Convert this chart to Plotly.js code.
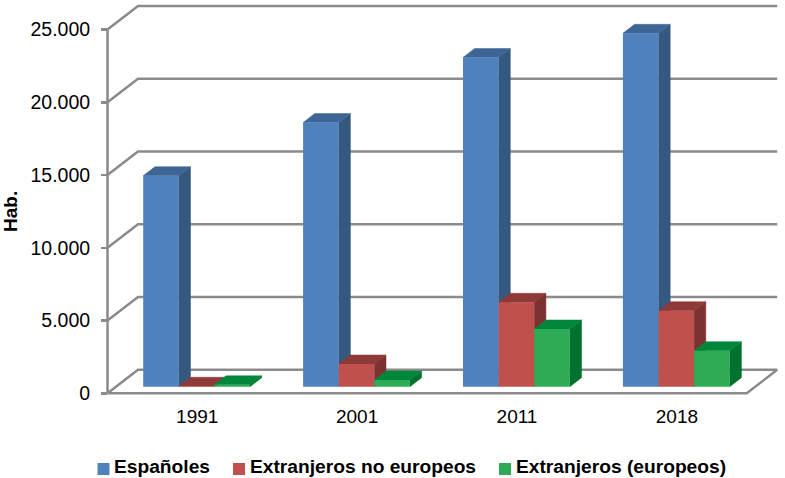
<!DOCTYPE html>
<html><head><meta charset="utf-8">
<script src="https://cdn.plot.ly/plotly-3.0.1.min.js"></script>
<style>html,body{margin:0;padding:0;background:#fff}#c{width:785px;height:478px}</style>
</head><body><div id="c"></div>
<script>
const categories = ['1991','2001','2011','2018'];
const seriesNames = ['Españoles','Extranjeros no europeos','Extranjeros (europeos)'];
const espanoles = [14500,18150,22620,24285];
const noEuropeos = [30,1560,5800,5222];
const europeos = [130,460,3965,2474];
const yTicks = [0,5000,10000,15000,20000,25000];
const yTickText = ['0','5.000','10.000','15.000','20.000','25.000'];
const frontColors = ['#4F81BD','#C0504D','#2EAB54'];
const sideColors = ['#35587F','#7C3230','#00722F'];
const topColors = ['#3D6596','#8E3A38','#00873C'];

const allValues = [espanoles,noEuropeos,europeos];
const W = 785, H = 478;
const L = 107.5, R = 746.7, T = 29.5, B = 393.3, CX = 197.2;
const pxX = 159.9, pxY = (B-T)/25000;
const xMin = (L-CX)/pxX, xMax = (R-CX)/pxX;
const wallDX = 30.5/pxX, wallDY = 23.5/pxY;
const barW = 35.6/pxX, barOff = -54/pxX;
const barDX = 11.7/pxX, barDY = 9/pxY;
const lift = 6.6/pxY;
const gray = '#8A8A8A';
const fullX = [-CX/pxX,(W-CX)/pxX], fullY = [(B-H)/pxY,B/pxY];

const traces = [{type:'scatter',mode:'lines',x:[],y:[],xaxis:'x',yaxis:'y',hoverinfo:'skip',showlegend:false}];
// walls and floor
const gx=[], gy=[];
yTicks.forEach(v=>{ gx.push(xMin,xMin+wallDX,xMax+wallDX,null); gy.push(v,v+wallDY,v+wallDY,null); });
gx.push(xMin,xMax,xMax+wallDX,null,xMin,xMin); gy.push(0,0,wallDY,null,0,25000);
traces.push({type:'scatter',mode:'lines',xaxis:'x2',yaxis:'y2',x:gx,y:gy,hoverinfo:'skip',showlegend:false,
  line:{color:gray,width:2.5}});
// side and top faces, left to right
allValues.forEach((vals,k)=>{
  const sx=[],sy=[],tx=[],ty=[];
  vals.forEach((v,i)=>{
    const x0=i+barOff+k*barW, x1=x0+barW, top=lift+v;
    sx.push(x1,x1+barDX,x1+barDX,x1,x1,null);
    sy.push(lift,lift+barDY,top+barDY,top,lift,null);
    tx.push(x0,x0+barDX,x1+barDX,x1,x0,null);
    ty.push(top,top+barDY,top+barDY,top,top,null);
  });
  traces.push({type:'scatter',mode:'lines',xaxis:'x2',yaxis:'y2',x:sx,y:sy,fill:'toself',fillcolor:sideColors[k],
    line:{color:sideColors[k],width:0.5},hoverinfo:'skip',showlegend:false});
  traces.push({type:'scatter',mode:'lines',xaxis:'x2',yaxis:'y2',x:tx,y:ty,fill:'toself',fillcolor:topColors[k],
    line:{color:topColors[k],width:0.5},hoverinfo:'skip',showlegend:false});
});
// front faces
allValues.forEach((vals,k)=>{
  traces.push({type:'bar',name:seriesNames[k],xaxis:'x3',yaxis:'y3',x:categories.map((c,i)=>i),y:vals,
    base:vals.map(()=>lift),width:barW,offset:barOff+k*barW,marker:{color:frontColors[k],line:{width:0}},showlegend:false});
});

const font='"Liberation Sans",Arial,sans-serif';
const legendX=[97.5,233,499], legendTextX=[111.5,248,514], legendY=469, legendTextY=466;
const annotations=seriesNames.map((n,k)=>({xref:'paper',yref:'paper',xanchor:'left',yanchor:'middle',showarrow:false,
  x:legendTextX[k]/W,y:1-legendTextY/H,text:'<b>'+n+'</b>',font:{family:font,size:19.2,color:'#000'}}));
const shapes=seriesNames.map((n,k)=>({type:'rect',xref:'paper',yref:'paper',line:{width:0},fillcolor:frontColors[k],
  x0:legendX[k]/W,x1:(legendX[k]+12)/W,y0:1-(legendY+6)/H,y1:1-(legendY-6)/H}));

const axFont={family:font,size:19.5,color:'#000'};
Plotly.newPlot('c',traces,{
  width:W,height:H,paper_bgcolor:'#fff',plot_bgcolor:'rgba(0,0,0,0)',
  margin:{l:0,r:0,t:0,b:0,pad:0},barmode:'overlay',showlegend:false,
  xaxis:{domain:[L/W,R/W],range:[xMin,xMax],tickmode:'array',tickvals:categories.map((c,i)=>i),ticktext:categories,ticks:'',
    showgrid:false,zeroline:false,showline:false,tickfont:{family:font,size:19,color:'#000'},ticklabelstandoff:10,anchor:'y'},
  yaxis:{domain:[1-B/H,1-T/H],range:[0,25000],tickmode:'array',tickvals:yTicks,ticktext:yTickText,ticks:'outside',ticklen:5.5,tickwidth:2.5,tickcolor:gray,
    showgrid:false,zeroline:false,showline:false,tickfont:axFont,ticklabelstandoff:7,anchor:'x',
    title:{text:'<b>Hab.</b>',font:{family:font,size:19,color:'#000'},standoff:9}},
  xaxis2:{domain:[0,1],range:fullX,visible:false,anchor:'y2'},
  yaxis2:{domain:[0,1],range:fullY,visible:false,anchor:'x2'},
  xaxis3:{domain:[0,1],range:fullX,overlaying:'x2',visible:false,anchor:'y3'},
  yaxis3:{domain:[0,1],range:fullY,overlaying:'y2',visible:false,anchor:'x3'},
  annotations,shapes
},{displayModeBar:false,staticPlot:true});
</script></body></html>
